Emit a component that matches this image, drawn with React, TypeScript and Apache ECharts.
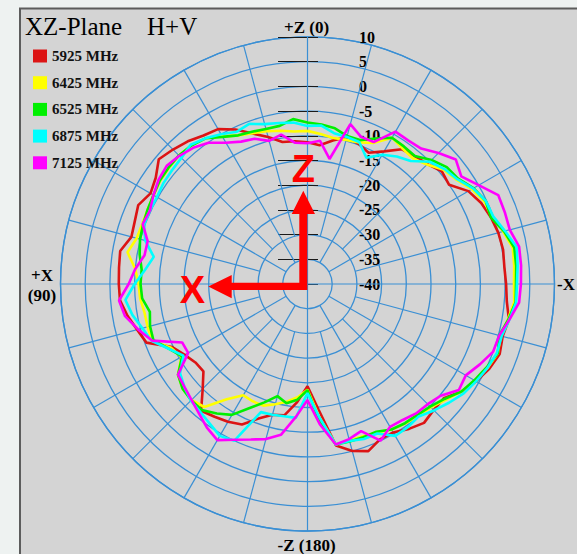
import React, { useEffect, useRef } from "react";
import * as echarts from "echarts";

// Angle (degrees, 0 = +Z at top, 90 = +X at left)
const ANGLES = [0,5,10,15,20,25,30,35,40,45,50,55,60,65,70,75,80,85,90,95,100,105,110,115,120,125,130,135,140,145,150,155,160,165,170,175,180,185,190,195,200,205,210,215,220,225,230,235,240,245,250,255,260,265,270,275,280,285,290,295,300,305,310,315,320,325,330,335,340,345,350,355];

const SERIES_NAMES = ["5925 MHz", "6425 MHz", "6525 MHz", "6875 MHz", "7125 MHz"];
const SERIES_COLORS = ["#dc1414", "#ffff00", "#00f000", "#00ffff", "#ff00ff"];

// Gain in dB
const GAIN_5925 = [-11.3,-11,-10.8,-9.2,-7.6,-5.5,-3.8,-3.3,-2.3,-1.5,-0.7,-2.5,-3.3,-2.2,-2.8,-3.1,-1.5,-1.7,-1.8,-1.9,-3,-4.3,-5.3,-9.8,-11.3,-12.3,-12.5,-10,-6.5,-7.2,-7.8,-8.6,-11,-12.6,-13,-16,-19.3,-14.5,-6.8,-5,-4,-5.3,-5.3,-4.2,-3.3,-3.9,-4,-2,-0.6,0.6,1.4,0.9,1.4,0.5,0.2,0,0.2,0,-0.5,-1.2,-2.4,-5,-4.5,-5.7,-6.2,-6.7,-9,-10.7,-9.8,-9.2,-10.5,-11.8];
const GAIN_6425 = [-9,-9,-8.5,-8,-7.5,-6.8,-5.5,-4,-3.4,-3.2,-3.4,-3.6,-4,-4.3,-4.4,-4.2,-3,-5,-5.8,-6,-6.5,-6.5,-6.5,-9.5,-10.5,-8,-7,-6.8,-7.5,-11.5,-14,-13.8,-13.8,-14.8,-15.8,-17,-18.6,-13,-7,-7.2,-7.2,-6.8,-6,-5.5,-5.2,-4.7,-3.5,-2,-0.8,0.2,1,0.5,1.2,2,1.8,2,2.2,1,-0.3,-0.5,-1.6,-3.2,-4,-5.8,-6.8,-6.5,-5.8,-8.5,-9.5,-9.8,-10,-9.5];
const GAIN_6525 = [-7.3,-6.5,-7.5,-7.5,-7.2,-6.8,-5.6,-4,-3.4,-3.2,-3.3,-3.5,-4,-4.3,-4.6,-4.9,-5.5,-6.3,-6.2,-6.4,-7.6,-7,-6.8,-9,-10.7,-8,-7,-6.7,-6.7,-8,-9.4,-12.3,-14.5,-16.5,-15.5,-16.5,-18.5,-12,-7,-7,-7,-7,-6,-5.6,-5.4,-4.9,-3.8,-2,-1,0,1,0.2,1.3,2.3,2.2,2.4,2.5,1.2,-0.5,-0.2,-1.2,-2.8,-3.2,-4.5,-6.2,-6,-5.8,-7.5,-9,-9,-8,-7.6];
const GAIN_6875 = [-8,-7.2,-6.9,-6.5,-5.5,-6,-5,-4,-3.2,-3.9,-4.2,-4.4,-4.8,-4.8,-4.8,-6,-8.4,-7,-5,-3,-4,-5.4,-6.4,-9,-11,-8.5,-7.5,-6.6,-6.2,-5.5,-4.5,-5,-12.4,-12.6,-12.8,-12.8,-17.9,-13,-7,-7.1,-6.6,-6.6,-4.5,-4.6,-5,-3.8,-2.6,-1.4,-0.6,0.2,0.8,0.7,1.5,2.4,2.4,2.7,3,1.4,0,-0.2,-1.3,-3,-3.8,-5,-7.5,-8.5,-9.8,-11.8,-9.4,-9.2,-9,-7.8];
const GAIN_7125 = [-11.5,-11.3,-9.3,-10,-8.7,-8.2,-7,-5.1,-4,-3.3,-2.8,-3.2,-4,-4.8,-4.5,-6.5,-6.5,-5,-3.8,-1.7,-2.5,-4.5,-6.5,-12,-12.1,-8,-7.5,-6.8,-5.8,-4.5,-3.5,-5.2,-6.5,-7.5,-9,-13,-16.5,-11.5,-7,-7.5,-8.3,-5,-6.6,-6.4,-5.8,-5.6,-4.8,-2.6,-3,-1.5,0,0.2,1.5,3,3.2,3.4,3.5,2.4,2.5,2.6,0,-2,-0.8,-2.5,-4.2,-4.5,-4.4,-8.3,-8.3,-6.5,-14.3,-10.9];

const GAINS = [GAIN_5925, GAIN_6425, GAIN_6525, GAIN_6875, GAIN_7125];

// Radial scale (dB)
const RADIUS_MIN = -40;
const RADIUS_MAX = 10;
const RADIUS_STEP = 5;

// Grid spokes every 15 degrees
const SPOKE_ANGLES = [0,15,30,45,60,75,90,105,120,135,150,165,180,195,210,225,240,255,270,285,300,315,330,345];

const BLUE = "#3a8fd4";
const SERIF = '"Liberation Serif", "Times New Roman", serif';
const CX = 307.5;
const CY = 284;
const R = 247;

export default function App() {
  const ref = useRef<HTMLDivElement>(null);

  useEffect(() => {
    if (!ref.current) return;
    const chart = echarts.init(ref.current, null, { renderer: "svg" });

    const gainSeries = GAINS.map((g, i) => ({
      name: SERIES_NAMES[i],
      type: "line",
      coordinateSystem: "polar",
      polarIndex: 0,
      data: [...ANGLES.map((a, j) => [g[j], a]), [g[0], 360]],
      symbol: "none",
      showSymbol: false,
      lineStyle: { color: SERIES_COLORS[i], width: 2.6 },
      itemStyle: { color: SERIES_COLORS[i] },
      z: 5 + i,
      silent: true,
    }));

    const spokeSeries = SPOKE_ANGLES.map((a) => ({
      type: "line",
      coordinateSystem: "polar",
      polarIndex: 0,
      data: [
        [a % 90 === 0 ? RADIUS_MIN : a % 30 === 0 ? RADIUS_MIN + RADIUS_STEP : RADIUS_MIN + 2 * RADIUS_STEP, a],
        [RADIUS_MAX, a],
      ],
      symbol: "none",
      showSymbol: false,
      lineStyle: { color: BLUE, width: 1.2 },
      z: 1,
      silent: true,
    }));

    const labelFont = `bold 17px ${SERIF}`;

    chart.setOption({
      animation: false,
      backgroundColor: "#d4d4d4",
      polar: { center: [CX, CY], radius: R },
      angleAxis: {
        type: "value",
        min: 0,
        max: 360,
        interval: 15,
        startAngle: 90,
        clockwise: false,
        axisLine: { show: true, lineStyle: { color: BLUE, width: 1.3 } },
        axisTick: { show: false },
        axisLabel: { show: false },
        splitLine: { show: false },
      },
      radiusAxis: {
        type: "value",
        min: RADIUS_MIN,
        max: RADIUS_MAX,
        interval: RADIUS_STEP,
        axisLine: { show: false },
        axisTick: { show: false },
        axisLabel: { show: false },
        splitLine: { show: true, lineStyle: { color: BLUE, width: 1.3 } },
      },
      grid: { left: 318, width: 40, top: CY - R, height: R, containLabel: false },
      xAxis: { type: "value", show: false },
      yAxis: {
        type: "value",
        position: "right",
        min: RADIUS_MIN,
        max: RADIUS_MAX,
        interval: RADIUS_STEP,
        axisLine: { show: false },
        axisTick: { show: true, inside: true, length: 40, lineStyle: { color: "#1a1a1a", width: 1.2 } },
        axisLabel: { margin: 1, color: "#000", fontFamily: SERIF, fontSize: 16, fontWeight: "bold" },
        splitLine: { show: false },
      },
      legend: {
        data: SERIES_NAMES,
        orient: "vertical",
        left: 28,
        top: 43.5,
        icon: "rect",
        itemWidth: 14,
        itemHeight: 13,
        itemGap: 11.7,
        selectedMode: false,
        textStyle: { fontFamily: SERIF, fontSize: 15, fontWeight: "bold", color: "#111", lineHeight: 15 },
      },
      graphic: [
        { type: "rect", shape: { x: 0, y: 0, width: 19, height: 554 }, style: { fill: "#eef2f1" }, z: 50, silent: true },
        { type: "rect", shape: { x: 0, y: 0, width: 577, height: 8 }, style: { fill: "#eef2f1" }, z: 50, silent: true },
        { type: "polyline", shape: { points: [[20, 554], [20, 8.5], [577, 8.5]] }, style: { stroke: "#5c5c5c", lineWidth: 2, fill: null }, z: 51, silent: true },
        { type: "text", x: 25, y: 26.5, style: { text: "XZ-Plane", font: `25px ${SERIF}`, fill: "#000", textAlign: "left", textVerticalAlign: "middle", align: "left", verticalAlign: "middle" }, z: 52 },
        { type: "text", x: 147, y: 26.5, style: { text: "H+V", font: `25px ${SERIF}`, fill: "#000", textAlign: "left", textVerticalAlign: "middle", align: "left", verticalAlign: "middle" }, z: 52 },
        { type: "text", x: 306.5, y: 27, style: { text: "+Z (0)", font: labelFont, fill: "#000", textAlign: "center", textVerticalAlign: "middle", align: "center", verticalAlign: "middle" }, z: 52 },
        { type: "text", x: 306.5, y: 545, style: { text: "-Z (180)", font: labelFont, fill: "#000", textAlign: "center", textVerticalAlign: "middle", align: "center", verticalAlign: "middle" }, z: 52 },
        { type: "text", x: 42, y: 275, style: { text: "+X", font: labelFont, fill: "#000", textAlign: "center", textVerticalAlign: "middle", align: "center", verticalAlign: "middle" }, z: 52 },
        { type: "text", x: 42, y: 295, style: { text: "(90)", font: labelFont, fill: "#000", textAlign: "center", textVerticalAlign: "middle", align: "center", verticalAlign: "middle" }, z: 52 },
        { type: "text", x: 575, y: 284, style: { text: "-X", font: labelFont, fill: "#000", textAlign: "right", textVerticalAlign: "middle", align: "right", verticalAlign: "middle" }, z: 52 },
        {
          type: "polygon",
          shape: {
            points: [
              [307.3, 290], [231.7, 290], [231.7, 298.3], [208.3, 286.5], [231.7, 275], [231.7, 282.7],
              [299.3, 282.7], [299.3, 214], [291.7, 214], [303.3, 190.7], [315, 214], [307.3, 214],
            ],
          },
          style: { fill: "#ff0000" },
          z: 60,
          silent: true,
        },
        { type: "text", x: 192.5, y: 290, style: { text: "X", font: 'bold 38px "Liberation Sans", Arial, sans-serif', fill: "#ff0000", textAlign: "center", textVerticalAlign: "middle", align: "center", verticalAlign: "middle" }, z: 60 },
        { type: "text", x: 303.3, y: 168.5, style: { text: "Z", font: 'bold 38px "Liberation Sans", Arial, sans-serif', fill: "#ff0000", textAlign: "center", textVerticalAlign: "middle", align: "center", verticalAlign: "middle" }, z: 60 },
      ],
      series: [...spokeSeries, ...gainSeries],
    });

    return () => chart.dispose();
  }, []);

  return <div ref={ref} style={{ position: "fixed", left: 0, top: 0, width: 577, height: 554 }} />;
}
